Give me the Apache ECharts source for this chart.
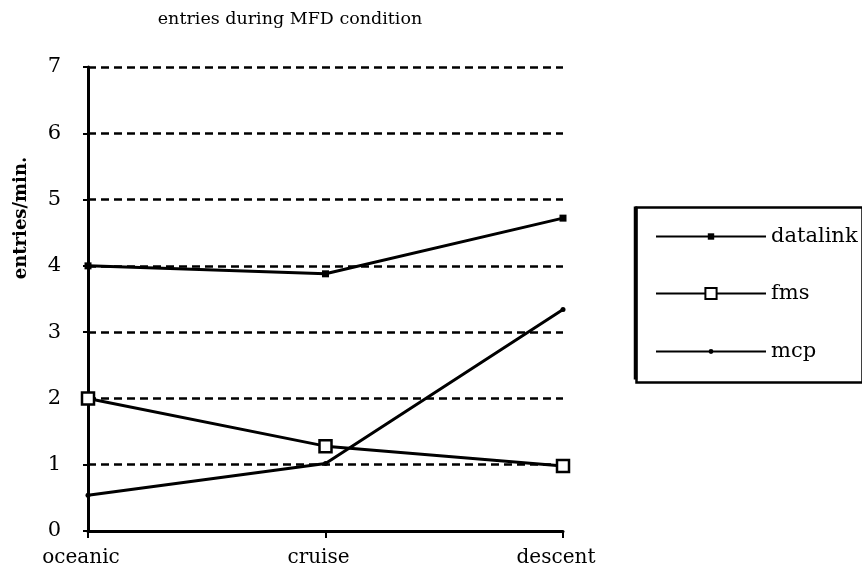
<!DOCTYPE html>
<html>
<head>
<meta charset="utf-8">
<script src="https://cdn.jsdelivr.net/npm/echarts@6/dist/echarts.min.js"></script>
<style>
html,body{margin:0;padding:0;background:#fff;}
#chart{width:862px;height:575px;}
</style>
</head>
<body>
<div id="chart"></div>
<script>
const categories = ['oceanic', 'cruise', 'descent'];
const datalink = [4.0, 3.88, 4.72];
const fms = [2.0, 1.28, 0.98];
const mcp = [0.54, 1.02, 3.34];
const yTicks = [0, 1, 2, 3, 4, 5, 6, 7];
const titleText = 'entries during MFD condition';
const yName = 'entries/min.';

const FONT = '"DejaVu Serif", "Liberation Serif", serif';
const chart = echarts.init(document.getElementById('chart'), null, {renderer: 'canvas'});

const lineStyle = {color: '#000', width: 3};
const legendBase = {
  orient: 'vertical',
  left: 655,
  padding: 0,
  itemWidth: 110,
  inactiveColor: '#000',
  selectedMode: false,
  textStyle: {fontFamily: FONT, fontSize: 21, color: '#000'},
  lineStyle: {color: '#000', width: 2}
};

chart.setOption({
  backgroundColor: '#fff',
  animation: false,
  title: {
    text: titleText,
    left: 285,
    textAlign: 'center',
    top: 5,
    textStyle: {fontFamily: FONT, fontSize: 17.5, fontWeight: 'normal', color: '#000'}
  },
  legend: [
    Object.assign({}, legendBase, {data: ['datalink'], top: 226, itemHeight: 8}),
    Object.assign({}, legendBase, {data: ['fms'], top: 283, itemHeight: 14}),
    Object.assign({}, legendBase, {data: ['mcp'], top: 341, itemHeight: 6})
  ],
  graphic: [
    {
      type: 'rect',
      left: 634, top: 205,
      shape: {width: 226, height: 175},
      style: {fill: 'none', stroke: '#000', lineWidth: 2.5},
      z: 0
    },
    {
      type: 'line',
      shape: {x1: 635.5, y1: 206.5, x2: 635.5, y2: 379.5},
      style: {stroke: '#000', lineWidth: 3.5},
      z: 0
    },
    {
      type: 'text',
      x: 21, y: 218,
      rotation: Math.PI / 2,
      style: {
        text: yName,
        fontFamily: FONT, fontSize: 18, fontWeight: 'bold', fill: '#000',
        align: 'center', verticalAlign: 'middle'
      },
      z: 5
    }
  ],
  grid: {left: 88, right: 299, top: 67, bottom: 44, containLabel: false},
  xAxis: {
    type: 'category',
    z: 5,
    data: categories,
    boundaryGap: false,
    axisLine: {lineStyle: {color: '#000', width: 3}},
    axisTick: {show: true, alignWithLabel: true, length: 7, lineStyle: {color: '#000', width: 2}},
    axisLabel: {fontFamily: FONT, fontSize: 20, color: '#000', margin: 17, padding: [0, 14, 0, 0]},
    splitLine: {show: false}
  },
  yAxis: {
    type: 'value',
    min: yTicks[0],
    max: yTicks[yTicks.length - 1],
    interval: 1,
    axisLine: {show: true, lineStyle: {color: '#000', width: 3}},
    axisTick: {show: true, length: 5, lineStyle: {color: '#000', width: 2}},
    axisLabel: {fontFamily: FONT, fontSize: 21, color: '#000', margin: 27},
    splitLine: {show: true, lineStyle: {color: '#000', width: 2.5, type: [8, 5]}}
  },
  series: [
    {
      name: 'datalink', type: 'line', data: datalink,
      symbol: 'rect', symbolSize: 7, showAllSymbol: true,
      lineStyle: lineStyle,
      itemStyle: {color: '#000', borderColor: '#000', borderWidth: 0},
      z: 6
    },
    {
      name: 'fms', type: 'line', data: fms,
      symbol: 'rect', symbolSize: 12, showAllSymbol: true,
      lineStyle: lineStyle,
      itemStyle: {color: '#fff', borderColor: '#000', borderWidth: 2.5},
      z: 6
    },
    {
      name: 'mcp', type: 'line', data: mcp,
      symbol: 'circle', symbolSize: 5, showAllSymbol: true,
      lineStyle: lineStyle,
      itemStyle: {color: '#000', borderColor: '#000', borderWidth: 0},
      z: 6
    }
  ]
});
</script>
</body>
</html>
